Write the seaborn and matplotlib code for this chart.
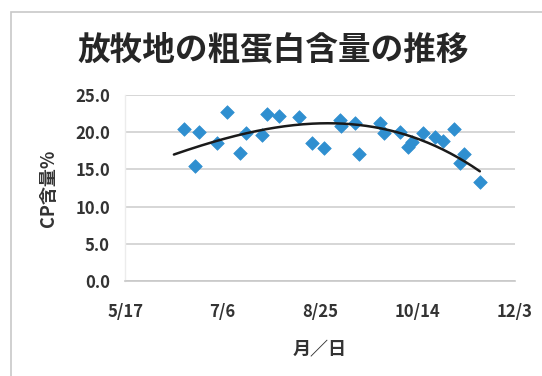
import matplotlib
matplotlib.use('Agg')
import matplotlib.pyplot as plt
import matplotlib.dates as mdates
from matplotlib.patches import Rectangle
import numpy as np
import pandas as pd
import seaborn as sns

# sampling dates (month/day) and crude protein content (%)
dates = ['6/16', '6/22', '6/24', '7/3', '7/8', '7/15', '7/18', '7/26', '7/29', '8/4',
         '8/14', '8/21', '8/27', '9/4', '9/5', '9/12', '9/14', '9/25', '9/27', '10/5',
         '10/9', '10/11', '10/17', '10/23', '10/27', '11/2', '11/5', '11/7', '11/15']
cp_values = [20.4, 15.5, 20.1, 18.5, 22.7, 17.2, 19.9, 19.7, 22.4, 22.2,
             22.0, 18.5, 17.9, 21.6, 20.8, 21.3, 17.1, 21.2, 19.9, 20.0,
             18.0, 18.7, 19.9, 19.4, 18.8, 20.4, 15.8, 17.1, 13.3]
tick_dates = ['5/17', '7/6', '8/25', '10/14', '12/3']
y_ticks = [0, 5, 10, 15, 20, 25]

# polynomial trend line as shown in the chart (u = days from 8/25)
trend_coef = [-2.5e-6, -8.4e-4, 0.007, 21.2]
trend_span = ['6/11', '11/15']
trend_center = '8/25'

df = pd.DataFrame({'date': pd.to_datetime(['2016/' + d for d in dates]),
                   'cp': cp_values})
df['x'] = mdates.date2num(df['date'])
tick_x = mdates.date2num(pd.to_datetime(['2016/' + d for d in tick_dates]))
span_x = mdates.date2num(pd.to_datetime(['2016/' + d for d in trend_span]))
center_x = mdates.date2num(pd.to_datetime('2016/' + trend_center))

sns.set_style('white')
plt.rcParams['font.family'] = ['Noto Sans CJK JP', 'DejaVu Sans']

fig = plt.figure(figsize=(5.42, 3.76), dpi=100)
ax = fig.add_axes([0.231, 0.253, 0.719, 0.494])

# chart border like the spreadsheet chart area
fig.patches.append(Rectangle((11 / 542, -0.1), 1.2, 1 - 12 / 376 + 0.1,
                             transform=fig.transFigure, fill=False,
                             edgecolor='#c8c8c8', linewidth=1.2))

sns.scatterplot(data=df, x='x', y='cp', marker='D', s=48, color='#2F8FD0',
                edgecolor='#2F8FD0', linewidth=0.5, ax=ax, zorder=3)

xs = np.linspace(span_x[0], span_x[1], 200)
sns.lineplot(x=xs, y=np.polyval(trend_coef, xs - center_x), color='#1a1a1a',
             linewidth=1.8, ax=ax, zorder=4)

ax.set_xlim(tick_x[0], tick_x[-1])
ax.set_ylim(0, 25)
ax.set_xticks(tick_x)
ax.set_xticklabels(tick_dates)
ax.set_yticks(y_ticks)
ax.set_yticklabels(['{:.1f}'.format(v) for v in y_ticks])
ax.yaxis.grid(True, color='#d0d0d0', linewidth=1.2)
ax.xaxis.grid(False)
for s in ['top', 'right']:
    ax.spines[s].set_visible(False)
ax.spines['left'].set_color('#ececec')
ax.spines['left'].set_linewidth(1.0)
ax.spines['bottom'].set_color('#c8c8c8')
ax.spines['bottom'].set_linewidth(1.2)
ax.tick_params(axis='both', length=0, labelsize=12, labelcolor='#333333')
ax.tick_params(axis='x', pad=16)
ax.tick_params(axis='y', pad=11)
for lab in ax.get_xticklabels() + ax.get_yticklabels():
    lab.set_fontweight('bold')

ax.set_xlabel('月／日', fontsize=13, fontweight='bold', color='#333333', labelpad=14)
ax.set_ylabel('CP含量%', fontsize=13, fontweight='bold', color='#333333', labelpad=12)
fig.text(0.505, 0.867, '放牧地の粗蛋白含量の推移', ha='center', va='center',
         fontsize=23.5, fontweight='bold', color='#262626')

plt.savefig('out.png', dpi=100)
